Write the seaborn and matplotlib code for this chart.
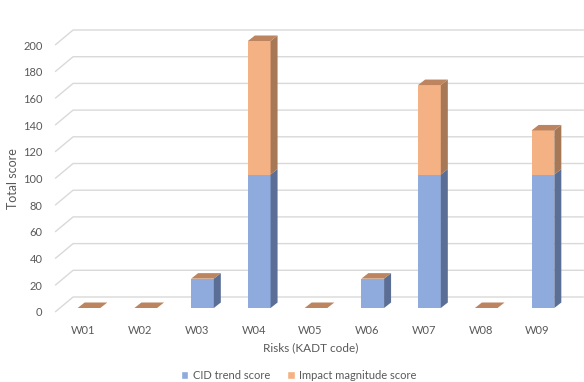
#!/usr/bin/env python3
"""Stacked 3-D style column chart: total risk score per KADT code."""

import matplotlib.pyplot as plt
import pandas as pd
import seaborn as sns
from matplotlib.patches import Patch, Polygon

RISKS = ["W01", "W02", "W03", "W04", "W05", "W06", "W07", "W08", "W09"]
CID_TREND = [0, 0, 22, 100, 0, 22, 100, 0, 100]
IMPACT_MAG = [0, 0, 0, 100, 0, 0, 67, 0, 33]
Y_TICKS = [0, 20, 40, 60, 80, 100, 120, 140, 160, 180, 200]

BLUE, BLUE_SIDE = "#8FAADC", "#5B6F96"
ORANGE, ORANGE_SIDE = "#F4B183", "#A77856"
TOP = "#BC8560"
GRID = "#D9D9D9"
TEXT = "#595959"

W_PX, H_PX, DPI = 584, 382, 100

# pixel offsets from the front floor edge (x right, y up)
BAR_OFF = (5.5, 4.0)
DEPTH = (7.0, 5.5)
WALL_OFF = (18.0, 15.0)


def main() -> None:
    sns.set_theme(style="white")
    plt.rcParams["font.family"] = ["Lato", "DejaVu Sans"]

    df = pd.DataFrame({"risk": RISKS, "cid": CID_TREND, "impact": IMPACT_MAG})
    df["total"] = df["cid"] + df["impact"]

    fig = plt.figure(figsize=(W_PX / DPI, H_PX / DPI), dpi=DPI)
    ax_l, ax_b, ax_w, ax_h = 55.1, 70.0, 510.75, 267.0
    ax = fig.add_axes([ax_l / W_PX, ax_b / H_PX, ax_w / W_PX, ax_h / H_PX])

    sns.barplot(data=df, x="risk", y="total", color=ORANGE, saturation=1,
                width=0.4, ax=ax, zorder=3)
    sns.barplot(data=df, x="risk", y="cid", color=BLUE, saturation=1,
                width=0.4, ax=ax, zorder=3)
    ax.set_xlim(-0.5, len(RISKS) - 0.5)
    ax.set_ylim(0, 200)

    sx = (ax.get_xlim()[1] - ax.get_xlim()[0]) / ax_w
    sy = (ax.get_ylim()[1] - ax.get_ylim()[0]) / ax_h
    bx, by = BAR_OFF[0] * sx, BAR_OFF[1] * sy
    ddx, ddy = DEPTH[0] * sx, DEPTH[1] * sy
    wx, wy = WALL_OFF[0] * sx, WALL_OFF[1] * sy

    # push the front faces back from the floor edge
    for p in ax.patches:
        p.set_x(p.get_x() + bx)
        p.set_y(p.get_y() + by)
        p.set_linewidth(0)
        p.set_clip_on(False)

    # side and top faces, built from the bar patches
    n = len(RISKS)
    totals, fronts = ax.patches[:n], ax.patches[n:]
    for tot, cid in zip(totals, fronts):
        x0 = tot.get_x()
        x1 = x0 + tot.get_width()
        y0 = tot.get_y()
        yc = cid.get_y() + cid.get_height()
        yt = y0 + tot.get_height()
        for lo, hi, col in [(y0, yc, BLUE_SIDE), (yc, yt, ORANGE_SIDE)]:
            if hi - lo > 1e-9:
                ax.add_patch(Polygon(
                    [(x1, lo), (x1, hi), (x1 + ddx, hi + ddy),
                     (x1 + ddx, lo + ddy)],
                    closed=True, facecolor=col, edgecolor="none",
                    zorder=3, clip_on=False))
        ax.add_patch(Polygon(
            [(x0, yt), (x1, yt), (x1 + ddx, yt + ddy), (x0 + ddx, yt + ddy)],
            closed=True, facecolor=TOP, edgecolor="none", zorder=3,
            clip_on=False))

    # back wall gridlines with the left side-wall diagonal
    xa, xb = ax.get_xlim()
    for v in Y_TICKS:
        ax.plot([xa, xa + wx, xb + wx], [v, v + wy, v + wy], color=GRID,
                linewidth=1.0, zorder=1, clip_on=False,
                solid_capstyle="butt")

    for side in ax.spines.values():
        side.set_visible(False)
    ax.grid(False)
    ax.set_yticks(Y_TICKS)
    ax.tick_params(axis="both", length=0, colors=TEXT, labelsize=8)
    ax.tick_params(axis="x", pad=9)
    ax.tick_params(axis="y", pad=9)

    ax.set_xlabel("Risks (KADT code)", color=TEXT, fontsize=8.5)
    ax.set_ylabel("Total score", color=TEXT, fontsize=9)
    ax.xaxis.set_label_coords(0.5, -0.115)
    ax.yaxis.set_label_coords(-0.07, 0.5)

    handles = [Patch(facecolor=BLUE, label="CID trend score"),
               Patch(facecolor=ORANGE, label="Impact magnitude score")]
    fig.legend(handles=handles, ncol=2, loc="center",
               bbox_to_anchor=(298.5 / W_PX, 6.5 / H_PX), frameon=False,
               fontsize=8, labelcolor=TEXT, handlelength=0.7,
               handleheight=0.7, handletextpad=0.4, columnspacing=1.5,
               borderpad=0)

    fig.savefig("out.png", dpi=DPI)
    plt.close(fig)


if __name__ == "__main__":
    main()
